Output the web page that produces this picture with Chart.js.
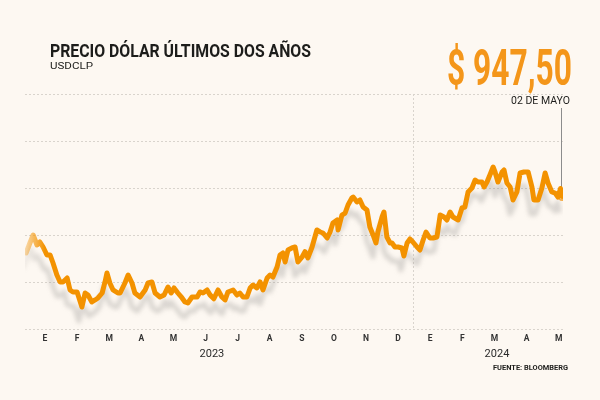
<!DOCTYPE html>
<html><head><meta charset="utf-8">
<script src="https://cdn.jsdelivr.net/npm/chart.js@4.4.1/dist/chart.umd.min.js"></script>
<style>
html,body{margin:0;padding:0;background:#fdf8f2;}
#wrap{position:relative;width:600px;height:400px;overflow:hidden;background:#fdf8f2;}
canvas{position:absolute;left:0;top:0;}
.t{position:absolute;white-space:nowrap;transform-origin:0 0;line-height:1;font-family:Roboto,'Liberation Sans',sans-serif;}
</style></head><body>
<div id="wrap">
<canvas id="c" width="600" height="400"></canvas>
<div class="t" data-w="261" style="left:50px;top:41px;font-size:19px;font-weight:700;color:#1d1d1b;">PRECIO DÓLAR ÚLTIMOS DOS AÑOS</div>
<div class="t" data-w="43" style="left:50px;top:61.3px;font-size:9.5px;color:#1d1d1b;">USDCLP</div>
<div class="t" data-w="125" style="left:447px;top:42.9px;font-size:50px;font-weight:700;color:#f4961a;">$ 947,50</div>
<div class="t" data-w="59" style="left:511px;top:96.3px;font-size:10px;color:#1d1d1b;">02 DE MAYO</div>
<div class="t" data-w="75" style="left:493px;top:363.7px;font-size:7.5px;font-weight:700;color:#1d1d1b;">FUENTE: BLOOMBERG</div>
</div>
<script>
// Data: position in months since Jan 2023 (month ticks at 0..16) and USD/CLP value
const monthLabels = ['E','F','M','A','M','J','J','A','S','O','N','D','E','F','M','A','M'];
const yearLabels = ['2023','2024'];
const yearPos = [5.2, 14.08];
const dividerPos = 11.45;
const monthPos = [-0.59,-0.47,-0.37,-0.25,-0.16,-0.06,0.06,0.16,0.25,0.37,
0.47,0.56,0.69,0.78,0.87,1.00,1.15,1.25,1.34,1.46,
1.56,1.65,1.78,1.87,1.93,2.02,2.12,2.27,2.34,2.49,
2.59,2.71,2.80,2.96,3.12,3.21,3.33,3.43,3.58,3.71,
3.83,3.93,4.02,4.14,4.27,4.36,4.45,4.58,4.74,4.83,
4.92,5.05,5.14,5.26,5.39,5.51,5.61,5.70,5.86,5.98,
6.07,6.17,6.29,6.39,6.48,6.60,6.70,6.79,6.92,7.01,
7.10,7.23,7.32,7.41,7.48,7.57,7.69,7.79,7.88,8.01,
8.10,8.19,8.32,8.47,8.57,8.66,8.79,8.88,8.97,9.10,
9.13,9.25,9.35,9.44,9.56,9.60,9.72,9.81,9.91,10.03,
10.12,10.22,10.31,10.37,10.50,10.56,10.65,10.75,10.81,10.90,
11.00,11.12,11.18,11.28,11.37,11.46,11.59,11.68,11.78,11.87,
11.99,12.09,12.21,12.31,12.43,12.52,12.62,12.71,12.87,12.99,
13.08,13.18,13.30,13.40,13.49,13.61,13.68,13.77,13.86,13.96,
14.02,14.11,14.24,14.30,14.39,14.49,14.58,14.70,14.80,14.92,
15.05,15.17,15.23,15.36,15.48,15.58,15.67,15.79,15.89,15.98,
16.06,16.11];
const usdclp = [859.9,875.4,887.8,872.3,877.0,869.2,856.8,856.8,844.4,825.8,
815.0,815.0,821.2,802.6,799.5,799.5,776.2,797.9,794.8,784.0,
787.1,790.2,797.9,815.0,828.9,813.4,802.6,797.9,797.9,813.4,
825.8,813.4,797.9,791.7,802.6,813.4,815.0,797.9,791.7,794.8,
807.2,797.9,805.7,797.9,790.2,784.0,782.4,791.7,791.7,799.5,
797.9,802.6,795.0,789.0,802.6,791.7,787.1,799.5,802.6,794.8,
797.9,791.7,791.7,805.7,810.3,805.7,815.0,802.6,821.2,825.8,
822.7,838.2,856.8,859.9,846.0,864.6,867.7,869.2,846.0,853.7,
862.0,852.2,869.2,895.6,892.5,890.9,883.2,892.5,906.4,911.1,
895.6,918.8,921.9,934.3,945.2,946.7,939.0,942.1,931.2,926.6,
900.2,887.8,875.4,892.5,915.7,923.5,884.7,875.4,875.4,869.2,
869.2,867.7,855.3,875.4,881.6,877.0,869.2,864.6,880.1,892.5,
883.2,883.2,884.7,918.8,915.7,911.1,923.5,915.7,911.1,929.7,
931.2,954.5,960.7,973.1,970.0,970.0,962.2,970.0,980.8,993.2,
985.5,970.0,985.5,988.6,968.4,962.2,942.1,954.5,983.9,985.5,
985.5,962.2,942.1,942.1,960.7,983.9,968.4,954.5,952.9,946.7,
960.0,947.5];
const lastPos = 16.11;
const lastValue = 947.5;

// fit header texts to their widths
document.querySelectorAll('.t').forEach(el => {
  const w = el.getBoundingClientRect().width;
  el.style.transform = 'scaleX(' + (parseFloat(el.dataset.w) / w) + ')';
});

const ORANGE = '#f39200';
const GRID = '#d9d4cd';

const shadowPlugin = {
  id: 'shadow',
  beforeDatasetDraw(chart, args) {
    if (args.index !== 0) return;
    const c = chart.ctx;
    c.save();
    c.shadowColor = 'rgba(120,118,115,0.26)';
    c.shadowOffsetX = -3;
    c.shadowOffsetY = 14;
    c.shadowBlur = 4;
  },
  afterDatasetDraw(chart, args) {
    if (args.index !== 0) return;
    chart.ctx.restore();
  }
};

const decoPlugin = {
  id: 'deco',
  beforeDatasetsDraw(chart) {
    const c = chart.ctx, xs = chart.scales.x, ys = chart.scales.y, a = chart.chartArea;
    c.save();
    const dx = Math.round(xs.getPixelForValue(dividerPos)) + 0.5;
    c.strokeStyle = GRID; c.lineWidth = 1; c.setLineDash([2, 2]);
    c.beginPath(); c.moveTo(dx, a.top); c.lineTo(dx, a.bottom); c.stroke();
    const ex = Math.round(xs.getPixelForValue(lastPos)) - 0.5;
    c.setLineDash([]); c.strokeStyle = '#8c8c8c';
    c.beginPath(); c.moveTo(ex, 108); c.lineTo(ex, ys.getPixelForValue(lastValue)); c.stroke();
    c.restore();
  },
  afterDraw(chart) {
    const c = chart.ctx, xs = chart.scales.x;
    c.save();
    c.font = '11px Roboto, sans-serif';
    c.fillStyle = '#2a2a2a';
    c.textAlign = 'center';
    c.textBaseline = 'alphabetic';
    yearLabels.forEach((y, i) => c.fillText(y, xs.getPixelForValue(yearPos[i]), 357));
    c.restore();
  }
};

new Chart(document.getElementById('c'), {
  type: 'line',
  data: {
    datasets: [{
      data: monthPos.map((t, i) => ({ x: t, y: usdclp[i] })),
      borderColor: (ctx) => {
        const ch = ctx.chart, a = ch.chartArea;
        if (!a) return ORANGE;
        const g = ch.ctx.createLinearGradient(a.left, 0, a.left + 20, 0);
        g.addColorStop(0, 'rgba(243,146,0,0.3)');
        g.addColorStop(1, ORANGE);
        return g;
      },
      borderWidth: 5,
      pointRadius: 0,
      tension: 0,
      borderJoinStyle: 'round',
      borderCapStyle: 'round'
    }, {
      data: [{ x: lastPos, y: lastValue }],
      showLine: false,
      pointRadius: 3.5,
      pointBackgroundColor: '#ffffff',
      pointBorderColor: '#f7b04a',
      pointBorderWidth: 2
    }]
  },
  options: {
    responsive: false,
    animation: false,
    layout: { padding: { left: 25, right: 37, top: 94, bottom: 0 } },
    plugins: { legend: { display: false }, tooltip: { enabled: false } },
    scales: {
      x: {
        type: 'linear', min: -0.623, max: 16.137,
        grid: { display: false, drawTicks: false },
        border: { display: false },
        afterBuildTicks: (s) => { s.ticks = monthLabels.map((l, i) => ({ value: i })); },
        afterFit: (s) => { s.height = 71; },
        ticks: {
          padding: 5, maxRotation: 0, autoSkip: false,
          color: '#333333',
          font: { family: 'Roboto, sans-serif', size: 8.5, weight: 'bold' },
          callback: (v) => monthLabels[v]
        }
      },
      y: {
        min: 742.1, max: 1106.4,
        afterBuildTicks: (s) => {
          const arr = [];
          for (let i = 0; i <= 5; i++) arr.push({ value: s.min + (s.max - s.min) * i / 5 });
          s.ticks = arr;
        },
        afterFit: (s) => { s.width = 0; },
        ticks: { display: false },
        grid: { color: GRID, lineWidth: 1, drawTicks: false },
        border: { display: false, dash: [2, 2] }
      }
    }
  },
  plugins: [shadowPlugin, decoPlugin]
});
</script>
</body></html>
